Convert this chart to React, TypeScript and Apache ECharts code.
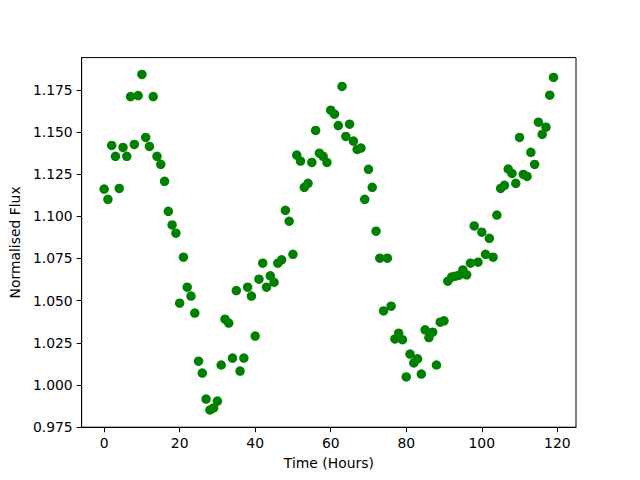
import React, { useEffect, useRef } from "react";
import * as echarts from "echarts";

const hours: number[] = Array.from({ length: 120 }, (_, i) => i);

const flux: number[] = [
  1.1162, 1.1101, 1.1421, 1.1356, 1.1166, 1.1409, 1.1356, 1.1711, 1.1427, 1.1717,
  1.1842, 1.1468, 1.1415, 1.1711, 1.1356, 1.1309, 1.1208, 1.1030, 1.0949, 1.0900,
  1.0485, 1.0758, 1.0580, 1.0527, 1.0426, 1.0141, 1.0070, 0.9916, 0.9851, 0.9863,
  0.9904, 1.0118, 1.0390, 1.0367, 1.0159, 1.0560, 1.0082, 1.0159, 1.0580, 1.0527,
  1.0290, 1.0627, 1.0722, 1.0580, 1.0647, 1.0609, 1.0722, 1.0742, 1.1036, 1.0971,
  1.0775, 1.1364, 1.1328, 1.1172, 1.1196, 1.1320, 1.1510, 1.1375, 1.1356, 1.1320,
  1.1630, 1.1606, 1.1539, 1.1771, 1.1474, 1.1547, 1.1447, 1.1397, 1.1405, 1.1101,
  1.1279, 1.1172, 1.0912, 1.0752, 1.0439, 1.0752, 1.0467, 1.0273, 1.0307, 1.0268,
  1.0047, 1.0183, 1.0130, 1.0155, 1.0064, 1.0327, 1.0281, 1.0313, 1.0118, 1.0372,
  1.0380, 1.0615, 1.0640, 1.0645, 1.0651, 1.0682, 1.0653, 1.0722, 1.0943, 1.0728,
  1.0906, 1.0775, 1.0870, 1.0758, 1.1008, 1.1166, 1.1184, 1.1281, 1.1255, 1.1196,
  1.1468, 1.1249, 1.1237, 1.1380, 1.1308, 1.1559, 1.1486, 1.1529, 1.1719, 1.1824,
];

const xTicks: number[] = [0, 20, 40, 60, 80, 100, 120];
const yTicks: number[] = [0.975, 1.0, 1.025, 1.05, 1.075, 1.1, 1.125, 1.15, 1.175];

const xLabel = "Time (Hours)";
const yLabel = "Normalised Flux";

export default function App() {
  const ref = useRef<HTMLDivElement>(null);
  useEffect(() => {
    if (!ref.current) return;
    const chart = echarts.init(ref.current, undefined, { renderer: "svg" });
    const font = "DejaVu Sans";
    const fs = 13.9;
    chart.setOption({
      animation: false,
      backgroundColor: "#ffffff",
      grid: {
        left: 80,
        right: 64,
        top: 57.6,
        bottom: 52.8,
        show: true,
        borderColor: "#000",
        borderWidth: 1,
        backgroundColor: "transparent",
      },
      xAxis: {
        type: "value",
        min: -5.95,
        max: 124.95,
        name: xLabel,
        nameLocation: "middle",
        nameGap: 29,
        nameTextStyle: { fontFamily: font, fontSize: fs, color: "#000" },
        axisLine: { show: true, onZero: false, lineStyle: { color: "#000", width: 1 } },
        axisTick: {
          show: true,
          inside: false,
          length: 5,
          customValues: xTicks,
          lineStyle: { color: "#000", width: 1 },
        },
        axisLabel: {
          show: true,
          margin: 9,
          customValues: xTicks,
          formatter: (v: number) => String(Math.round(v)),
          fontFamily: font,
          fontSize: fs,
          color: "#000",
        },
        splitLine: { show: false },
      },
      yAxis: {
        type: "value",
        min: 0.9749,
        max: 1.1942,
        name: yLabel,
        nameLocation: "middle",
        nameGap: 55,
        nameTextStyle: { fontFamily: font, fontSize: fs, color: "#000" },
        axisLine: { show: true, onZero: false, lineStyle: { color: "#000", width: 1 } },
        axisTick: {
          show: true,
          inside: false,
          length: 5,
          customValues: yTicks,
          lineStyle: { color: "#000", width: 1 },
        },
        axisLabel: {
          show: true,
          margin: 9,
          showMinLabel: true,
          customValues: yTicks,
          formatter: (v: number) => v.toFixed(3),
          fontFamily: font,
          fontSize: fs,
          color: "#000",
        },
        splitLine: { show: false },
      },
      series: [
        {
          type: "scatter",
          data: hours.map((h, i) => [h, flux[i]]),
          symbol: "circle",
          symbolSize: 9.5,
          itemStyle: { color: "#008000", opacity: 1 },
          emphasis: { disabled: true },
        },
      ],
    });
    return () => chart.dispose();
  }, []);
  return (
    <div
      ref={ref}
      style={{ position: "fixed", left: 0, top: 0, width: 640, height: 480 }}
    />
  );
}
